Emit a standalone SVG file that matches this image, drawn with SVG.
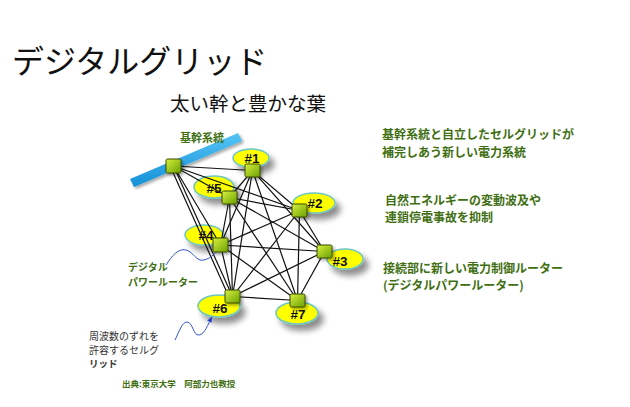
<svg xmlns="http://www.w3.org/2000/svg" width="630" height="407" viewBox="0 0 630 407">
<defs>
<style>
.jp{font-family:"Noto Sans CJK JP","Liberation Sans",sans-serif}
.green{fill:#3f6f12;font-weight:bold}
.edge{stroke:#111;stroke-width:1.2;fill:none}
.ell{fill:#ffff00;stroke:#6cc7c0;stroke-width:1.5}
.sq{fill:url(#gsq);stroke:#3a4a00;stroke-width:1}
.lbl{font-family:"Liberation Sans",Arial,sans-serif;font-weight:bold;font-size:13.5px;fill:#111;text-anchor:middle}
.wave{fill:none;stroke:#3355cc;stroke-width:1}
</style>
<linearGradient id="gsq" x1="0" y1="0" x2="1" y2="1">
<stop offset="0" stop-color="#d8f040"/>
<stop offset="1" stop-color="#6aa000"/>
</linearGradient>
<linearGradient id="gbar" x1="0" y1="0" x2="0" y2="1">
<stop offset="0" stop-color="#55c4f5"/>
<stop offset="1" stop-color="#1590d8"/>
</linearGradient>
<filter id="sh" x="-50%" y="-50%" width="200%" height="200%">
<feGaussianBlur in="SourceAlpha" stdDeviation="3"/>
<feOffset dx="5" dy="6" result="b"/>
<feComponentTransfer><feFuncA type="linear" slope="0.45"/></feComponentTransfer>
<feMerge><feMergeNode/><feMergeNode in="SourceGraphic"/></feMerge>
</filter>
<filter id="sh2" x="-50%" y="-50%" width="200%" height="200%">
<feGaussianBlur in="SourceAlpha" stdDeviation="1.5"/>
<feOffset dx="2" dy="2" result="b"/>
<feComponentTransfer><feFuncA type="linear" slope="0.35"/></feComponentTransfer>
<feMerge><feMergeNode/><feMergeNode in="SourceGraphic"/></feMerge>
</filter>
<marker id="arr" viewBox="0 0 10 10" refX="9" refY="5" markerWidth="6" markerHeight="6" orient="auto">
<path d="M0,1 L10,5 L0,9 z" fill="#2244cc"/>
</marker>
</defs>
<rect width="630" height="407" fill="#ffffff"/>

<text class="jp" x="12" y="73" font-size="32" fill="#111">デジタルグリッド</text>
<text class="jp" x="170" y="111" font-size="19.5" fill="#111">太い幹と豊かな葉</text>

<g id="trunk-bar" filter="url(#sh2)">
<polygon points="130,179 238,133 242,141 134,187" fill="url(#gbar)"/>
</g>
<text class="jp green" x="180" y="142" font-size="11">基幹系統</text>

<g id="ellipses" filter="url(#sh)">
<ellipse class="ell" cx="251" cy="158" rx="18" ry="9"/>
<ellipse class="ell" cx="214" cy="187" rx="20" ry="11"/>
<ellipse class="ell" cx="314" cy="203" rx="21" ry="10"/>
<ellipse class="ell" cx="204" cy="235" rx="19" ry="10"/>
<ellipse class="ell" cx="345" cy="259" rx="18" ry="10"/>
<ellipse class="ell" cx="219" cy="306" rx="21" ry="11"/>
<ellipse class="ell" cx="297" cy="313" rx="21" ry="11"/>
</g>
<g id="node-labels">
<text class="lbl" x="252" y="163">#1</text>
<text class="lbl" x="214" y="193">#5</text>
<text class="lbl" x="315" y="208">#2</text>
<text class="lbl" x="206" y="240">#4</text>
<text class="lbl" x="340" y="266">#3</text>
<text class="lbl" x="220" y="313">#6</text>
<text class="lbl" x="298" y="319">#7</text>
</g>

<g id="connectors">
<line class="edge" x1="173.5" y1="166" x2="252.5" y2="170.5"/>
<line class="edge" x1="173.5" y1="166" x2="229.5" y2="197.5"/>
<line class="edge" x1="173.5" y1="166" x2="299.5" y2="210.5"/>
<line class="edge" x1="173.5" y1="166" x2="220.5" y2="245"/>
<line class="edge" x1="173.5" y1="166" x2="232.5" y2="296.5"/>
<line class="edge" x1="171" y1="168" x2="229" y2="297"/>

<line class="edge" x1="252.5" y1="170.5" x2="229.5" y2="197.5"/>
<line class="edge" x1="252.5" y1="170.5" x2="299.5" y2="210.5"/>
<line class="edge" x1="252.5" y1="170.5" x2="220.5" y2="245"/>
<line class="edge" x1="252.5" y1="170.5" x2="324.5" y2="251.5"/>
<line class="edge" x1="252.5" y1="170.5" x2="232.5" y2="296.5"/>
<line class="edge" x1="252.5" y1="170.5" x2="297.5" y2="300.5"/>

<line class="edge" x1="229.5" y1="197.5" x2="299.5" y2="210.5"/>
<line class="edge" x1="229.5" y1="197.5" x2="220.5" y2="245"/>
<line class="edge" x1="229.5" y1="197.5" x2="324.5" y2="251.5"/>
<line class="edge" x1="229.5" y1="197.5" x2="232.5" y2="296.5"/>
<line class="edge" x1="229.5" y1="197.5" x2="297.5" y2="300.5"/>

<line class="edge" x1="299.5" y1="210.5" x2="220.5" y2="245"/>
<line class="edge" x1="299.5" y1="210.5" x2="324.5" y2="251.5"/>
<line class="edge" x1="299.5" y1="210.5" x2="232.5" y2="296.5"/>
<line class="edge" x1="299.5" y1="210.5" x2="297.5" y2="300.5"/>

<line class="edge" x1="220.5" y1="245" x2="324.5" y2="251.5"/>
<line class="edge" x1="220.5" y1="245" x2="232.5" y2="296.5"/>
<line class="edge" x1="220.5" y1="245" x2="297.5" y2="300.5"/>

<line class="edge" x1="324.5" y1="251.5" x2="232.5" y2="296.5"/>
<line class="edge" x1="324.5" y1="251.5" x2="297.5" y2="300.5"/>

<line class="edge" x1="232.5" y1="296.5" x2="297.5" y2="300.5"/>

<path class="wave" d="M166,265 C172,256 178,248 186,250 C194,252 196,262 204,260 C212,258 216,252 221,247" marker-end="url(#arr)"/>
<path class="wave" d="M175,340 C179,332 182,322 187,322 C193,322 193,336 199,335 C205,334 208,324 212,317" marker-end="url(#arr)"/>
</g>

<g id="nodes" filter="url(#sh2)">
<g id="node-trunk"><rect class="sq" x="166" y="159" width="15" height="14" rx="1.5"/></g>
<g id="node-1"><rect class="sq" x="245" y="164" width="15" height="13" rx="1.5"/></g>
<g id="node-5"><rect class="sq" x="222" y="191" width="15" height="13" rx="1.5"/></g>
<g id="node-2"><rect class="sq" x="292" y="204" width="15" height="13" rx="1.5"/></g>
<g id="node-4"><rect class="sq" x="213" y="238" width="15" height="14" rx="1.5"/></g>
<g id="node-3"><rect class="sq" x="317" y="245" width="15" height="13" rx="1.5"/></g>
<g id="node-6"><rect class="sq" x="225" y="290" width="15" height="13" rx="1.5"/></g>
<g id="node-7"><rect class="sq" x="290" y="294" width="15" height="13" rx="1.5"/></g>
</g>

<g id="annotations">
<text class="jp green" x="128" y="271" font-size="10">デジタル</text>
<text class="jp green" x="128" y="286" font-size="10">パワールーター</text>
<text class="jp" x="89" y="340" font-size="10" fill="#333">周波数のずれを</text>
<text class="jp" x="89" y="354" font-size="10" fill="#333">許容するセルグ</text>
<text class="jp" x="89" y="367" font-size="9.5" fill="#333" font-weight="bold">リッド</text>
<text class="jp green" x="122" y="387" font-size="8.5">出典:東京大学　阿部力也教授</text>
</g>

<g id="notes">
<text class="jp green" x="382" y="139" font-size="12">基幹系統と自立したセルグリッドが</text>
<text class="jp green" x="382" y="157" font-size="12">補完しあう新しい電力系統</text>
<text class="jp green" x="385" y="205" font-size="12">自然エネルギーの変動波及や</text>
<text class="jp green" x="385" y="222" font-size="12">連鎖停電事故を抑制</text>
<text class="jp green" x="383" y="273" font-size="12">接続部に新しい電力制御ルーター</text>
<text class="jp green" x="383" y="290" font-size="12">(デジタルパワールーター)</text>
</g>
</svg>
